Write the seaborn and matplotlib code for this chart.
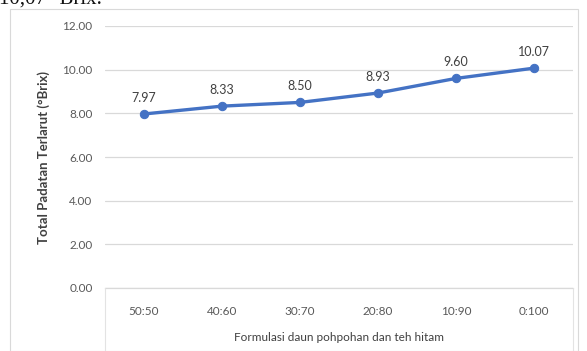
import matplotlib
matplotlib.use("Agg")
import matplotlib.pyplot as plt
from matplotlib.lines import Line2D
from matplotlib.patches import Rectangle
import seaborn as sns
import pandas as pd

# Formulation ratios (pohpohan leaf : black tea) and total soluble solids
formulasi = ["50:50", "40:60", "30:70", "20:80", "10:90", "0:100"]
brix = [7.97, 8.33, 8.50, 8.93, 9.60, 10.07]
yticks = [0, 2, 4, 6, 8, 10, 12]

df = pd.DataFrame({"formulasi": formulasi, "brix": brix})

sns.set_theme(style="white")
plt.rcParams["font.family"] = ["Lato", "DejaVu Sans"]

W, H = 587, 351
fig = plt.figure(figsize=(W / 100, H / 100), dpi=100)
fig.patch.set_facecolor("white")

# chart frame
fig.add_artist(Rectangle((10 / W, 0), 568 / W, 1 - 9 / H, transform=fig.transFigure,
                         fill=False, edgecolor="#d9d9d9", linewidth=0.8))

left, right = 105 / W, 573 / W
bottom, top = 1 - 288 / H, 1 - 26 / H
ax = fig.add_axes([left, bottom, right - left, top - bottom])

line_color = "#4472C4"
sns.lineplot(data=df, x="formulasi", y="brix", ax=ax, color=line_color,
             linewidth=2.4, marker="o", markersize=6, markeredgecolor=line_color,
             sort=False)

for i, v in enumerate(brix):
    ax.annotate(f"{v:.2f}", (i, v), xytext=(0, 7.5), textcoords="offset points",
                ha="center", va="bottom", fontsize=9, color="#404040")

ax.set_ylim(0, 12)
ax.set_xlim(-0.5, len(formulasi) - 0.5)
ax.set_yticks(yticks)
ax.set_yticklabels([f"{t:.2f}" for t in yticks], fontsize=8.5, color="#595959")
ax.tick_params(axis="x", labelsize=8.5, colors="#595959", pad=13, length=0)
ax.tick_params(axis="y", length=0, pad=9)
ax.grid(axis="y", color="#d9d9d9", linewidth=0.9)
ax.set_axisbelow(True)
for s in ["left", "right", "top"]:
    ax.spines[s].set_visible(False)
ax.spines["bottom"].set_color("#d9d9d9")
ax.spines["bottom"].set_linewidth(0.9)

ax.set_xlabel("Formulasi daun pohpohan dan teh hitam", fontsize=8.5, color="#404040",
              labelpad=11)
ax.set_ylabel("Total Padatan Terlarut (°Brix)", fontsize=9.5, fontweight="bold",
              color="#404040", labelpad=9)

# box around the category axis area
for xx in (105, 573):
    fig.add_artist(Line2D([xx / W, xx / W], [0, bottom], transform=fig.transFigure,
                          color="#e3e3e3", linewidth=0.8))

# trailing text line from the surrounding document
fig.text(-1 / W, 1 - 5 / H, "10,07 °Brix.", fontsize=15, family="Liberation Serif",
         ha="left", va="baseline", color="#111111")

fig.savefig("out.png", dpi=100, facecolor="white")
